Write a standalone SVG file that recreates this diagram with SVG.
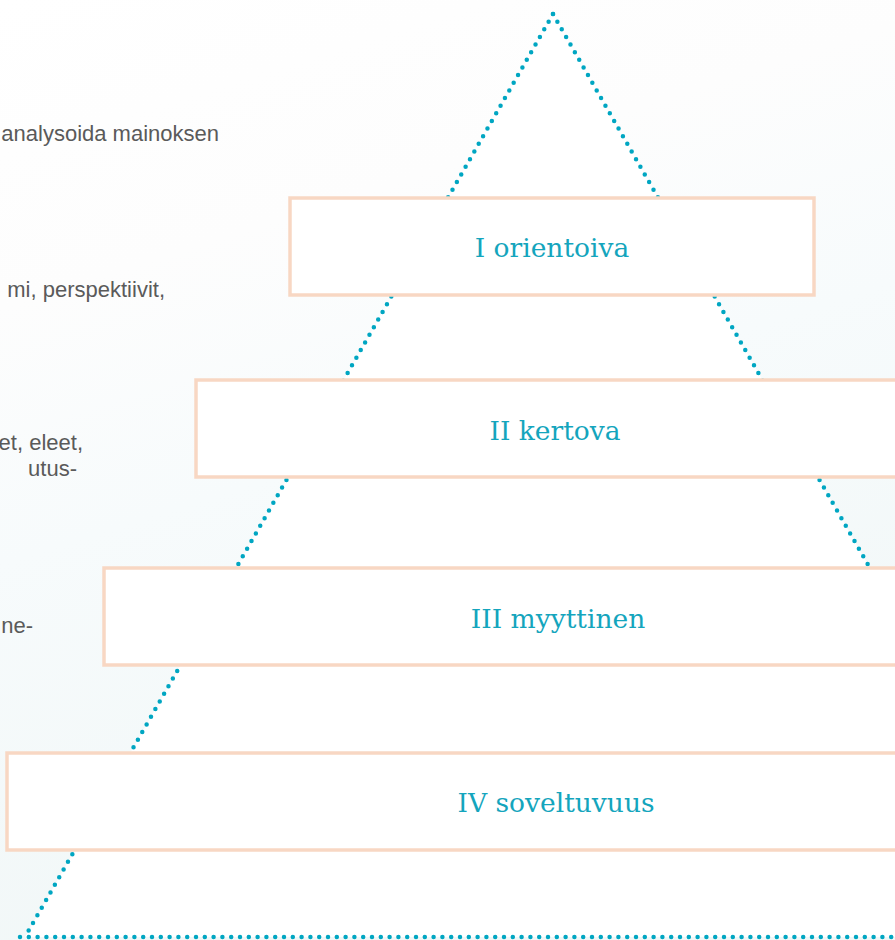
<svg xmlns="http://www.w3.org/2000/svg" width="895" height="940" viewBox="0 0 895 940">
<defs>
<linearGradient id="bg" x1="0" y1="0" x2="0.3" y2="1">
<stop offset="0" stop-color="#ffffff"/>
<stop offset="0.3" stop-color="#fdfdfd"/>
<stop offset="0.55" stop-color="#f7fbfc"/>
<stop offset="1" stop-color="#f1f7f7"/>
</linearGradient>
<style>
.dot{fill:none;stroke:#00a6c2;stroke-width:4.5;stroke-linecap:round;stroke-dasharray:0 8.8}
.box{fill:#ffffff;stroke:#f8d7c3;stroke-width:3.5}
.lbl{font-family:"DejaVu Serif","Liberation Serif",serif;font-size:26.5px;fill:#14a5bd;text-anchor:middle}
.side{font-family:"Liberation Sans","Noto Sans",sans-serif;font-size:22px;fill:#5a5a5a;text-anchor:end}
</style>
</defs>
<rect x="0" y="0" width="895" height="940" fill="url(#bg)"/>
<polygon points="553,14 25,937 1081,937" fill="#ffffff"/>
<g id="side-text">
<text class="side" x="219" y="141">analysoida mainoksen</text>
<text class="side" x="165" y="297">mi, perspektiivit,</text>
<text class="side" x="83" y="450">et, eleet,</text>
<text class="side" x="77" y="476">utus-</text>
<text class="side" x="33" y="633">ne-</text>
</g>
<g id="connectors">
<line class="dot" x1="553" y1="14" x2="25" y2="937"/>
<line class="dot" x1="553" y1="14" x2="1081" y2="937"/>
<line class="dot" x1="20" y1="937" x2="895" y2="937"/>
</g>
<g id="level-1">
<rect class="box" x="290" y="198" width="524" height="97"/>
<text class="lbl" x="552" y="257">I orientoiva</text>
</g>
<g id="level-2">
<rect class="box" x="196" y="380" width="720" height="97"/>
<text class="lbl" x="555" y="440">II kertova</text>
</g>
<g id="level-3">
<rect class="box" x="104" y="568" width="820" height="97"/>
<text class="lbl" x="558" y="628">III myyttinen</text>
</g>
<g id="level-4">
<rect class="box" x="7" y="753" width="920" height="97"/>
<text class="lbl" x="556" y="812">IV soveltuvuus</text>
</g>
</svg>
